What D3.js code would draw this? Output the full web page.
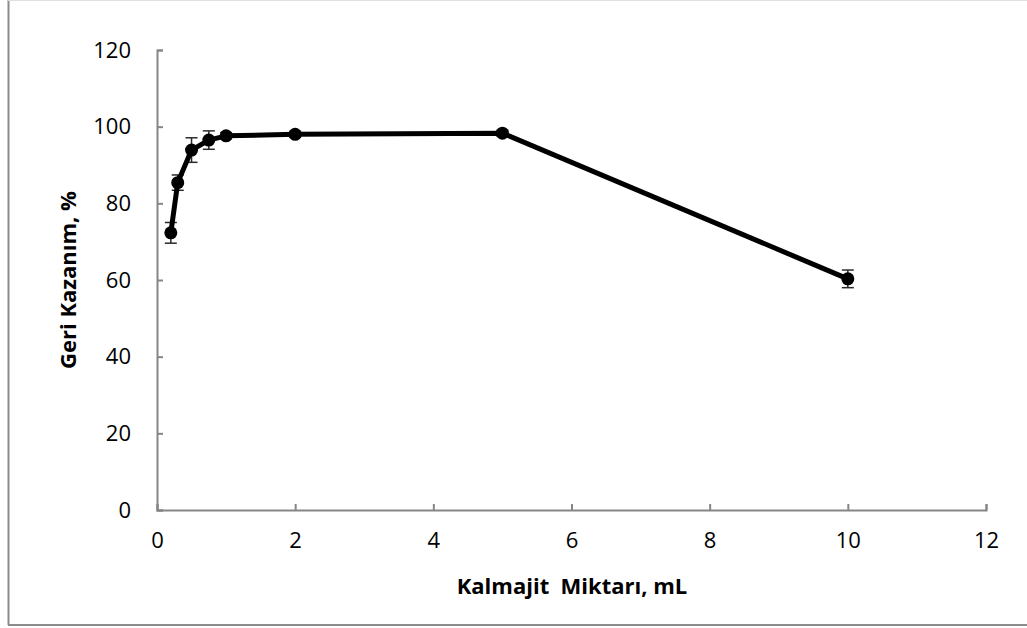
<!DOCTYPE html>
<html>
<head>
<meta charset="utf-8">
<script src="https://cdn.jsdelivr.net/npm/d3@7"></script>
<style>
  body { margin: 0; background: #fff; }
  svg { display: block; font-family: "Open Sans", sans-serif; }
</style>
</head>
<body>
<svg width="1027" height="628"></svg>
<script>
    "use strict";

    // amount of Kalmajit (mL) vs recovery (%)
    var amounts = [0.2, 0.3, 0.5, 0.75, 1, 2, 5, 10];
    var recovery = [72.3, 85.4, 93.9, 96.5, 97.6, 98.0, 98.3, 60.3];
    var errors = [2.7, 2.0, 3.2, 2.4, 0.8, 0.8, 0.8, 2.3];
    var xTicks = [0, 2, 4, 6, 8, 10, 12];
    var yTicks = [0, 20, 40, 60, 80, 100, 120];

    (function() {
    var data = amounts.map(function(a, i) {
        return {x: a, y: recovery[i], e: errors[i]};
    });

    var svg = d3.select("svg");
    var plotLeft = 157, plotRight = 986, plotTop = 50, plotBottom = 510;

    var x = d3.scaleLinear().domain([0, 12]).range([plotLeft, plotRight]);
    var y = d3.scaleLinear().domain([0, 120]).range([plotBottom, plotTop]);

    // outer chart frame
    svg.append("line").attr("x1", 8.5).attr("x2", 8.5).attr("y1", 0).attr("y2", 625)
        .attr("stroke", "#8c8c8c").attr("stroke-width", 2);
    svg.append("line").attr("x1", 8).attr("x2", 1027).attr("y1", 625).attr("y2", 625)
        .attr("stroke", "#8c8c8c").attr("stroke-width", 2);
    svg.append("line").attr("x1", 8).attr("x2", 1027).attr("y1", 0.5).attr("y2", 0.5)
        .attr("stroke", "#e0e0e0").attr("stroke-width", 1);

    var axisColor = "#868686";

    var yAxis = svg.append("g")
        .attr("transform", "translate(" + plotLeft + ",0)")
        .call(d3.axisLeft(y).tickValues(yTicks).tickSize(-6).tickPadding(26));
    var xAxis = svg.append("g")
        .attr("transform", "translate(0," + plotBottom + ")")
        .call(d3.axisBottom(x).tickValues(xTicks).tickSize(-6).tickPadding(22));

    [xAxis, yAxis].forEach(function(g) {
        g.select(".domain").attr("stroke", axisColor).attr("stroke-width", 2);
        g.selectAll(".tick line").attr("stroke", axisColor).attr("stroke-width", 2);
        g.selectAll(".tick text").attr("fill", "#000")
            .style("font-size", "22px").style("font-family", "'Open Sans', sans-serif");
    });

    // error bars
    var eb = svg.append("g").attr("stroke", "#2b2b2b").attr("stroke-width", 1.5);
    data.forEach(function(d) {
        eb.append("line").attr("x1", x(d.x)).attr("x2", x(d.x))
            .attr("y1", y(d.y + d.e)).attr("y2", y(d.y - d.e));
        [d.y + d.e, d.y - d.e].forEach(function(v) {
            eb.append("line").attr("x1", x(d.x) - 6).attr("x2", x(d.x) + 6)
                .attr("y1", y(v)).attr("y2", y(v));
        });
    });

    var line = d3.line().x(function(d) { return x(d.x); }).y(function(d) { return y(d.y); });
    svg.append("path").datum(data)
        .attr("d", line)
        .attr("fill", "none")
        .attr("stroke", "#000")
        .attr("stroke-width", 5)
        .attr("stroke-linejoin", "round");

    svg.selectAll("circle.pt").data(data).enter().append("circle")
        .attr("class", "pt")
        .attr("cx", function(d) { return x(d.x); })
        .attr("cy", function(d) { return y(d.y); })
        .attr("r", 6.5)
        .attr("fill", "#000");

    svg.append("text")
        .attr("x", 572).attr("y", 594)
        .attr("text-anchor", "middle")
        .attr("xml:space", "preserve")
        .style("font-size", "22px").style("font-weight", "bold")
        .text("Kalmajit  Miktarı, mL");

    svg.append("text")
        .attr("transform", "translate(76,280) rotate(-90)")
        .attr("text-anchor", "middle")
        .style("font-size", "22px").style("font-weight", "bold")
        .text("Geri Kazanım, %");
    })();
</script>
</body>
</html>
